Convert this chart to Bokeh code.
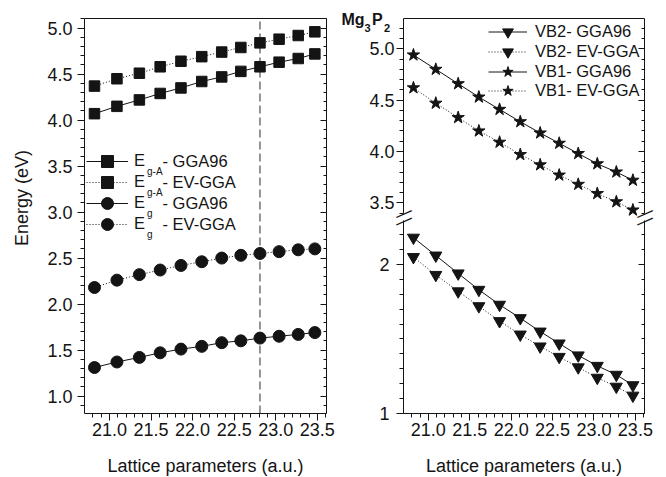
import math
import numpy as np
from bokeh.plotting import figure
from bokeh.layouts import row
from bokeh.models import (Range1d, LinearAxis, FixedTicker, PrintfTickFormatter,
                          CustomJSTickFormatter, Legend, LegendItem, Label)
from bokeh.embed import file_html
from bokeh.resources import INLINE

# ---------------- data ----------------
lattice = [20.82, 21.09, 21.36, 21.61, 21.86, 22.11, 22.35, 22.58, 22.81, 23.04, 23.27, 23.47]
ega_gga96 = [4.07, 4.15, 4.22, 4.29, 4.35, 4.42, 4.47, 4.53, 4.58, 4.63, 4.67, 4.72]
ega_evgga = [4.37, 4.45, 4.51, 4.58, 4.64, 4.69, 4.74, 4.79, 4.84, 4.88, 4.92, 4.96]
eg_gga96 = [1.31, 1.37, 1.42, 1.47, 1.51, 1.54, 1.58, 1.60, 1.63, 1.65, 1.67, 1.69]
eg_evgga = [2.18, 2.26, 2.32, 2.37, 2.42, 2.46, 2.50, 2.53, 2.55, 2.57, 2.59, 2.60]
vb1_gga96 = [4.94, 4.80, 4.66, 4.53, 4.41, 4.29, 4.18, 4.08, 3.98, 3.88, 3.80, 3.72]
vb1_evgga = [4.62, 4.47, 4.33, 4.20, 4.09, 3.97, 3.87, 3.77, 3.68, 3.59, 3.51, 3.43]
vb2_gga96 = [2.18, 2.06, 1.94, 1.83, 1.73, 1.64, 1.55, 1.47, 1.39, 1.32, 1.26, 1.19]
vb2_evgga = [2.05, 1.93, 1.82, 1.72, 1.62, 1.53, 1.45, 1.38, 1.31, 1.24, 1.18, 1.12]
eq_lattice = 22.81

x_limits = (20.7, 23.61)
left_y_limits = (0.81, 5.105)
upper_y_limits = (3.396, 5.295)     # right panel, above the axis break
lower_y_limits = (1.0, 2.295)       # right panel, below the axis break

x_major_ticks = [21.0, 21.5, 22.0, 22.5, 23.0, 23.5]
left_y_ticks = [1.0, 1.5, 2.0, 2.5, 3.0, 3.5, 4.0, 4.5, 5.0]
upper_y_ticks = [3.5, 4.0, 4.5, 5.0]
lower_y_ticks = [1.0, 2.0]

left_legend_main = ["E", "E", "E", "E"]
left_legend_sub = ["g-A", "g-A", "g", "g"]
left_legend_suffix = ["- GGA96", "- EV-GGA", "- GGA96", "- EV-GGA"]
right_legend_labels = ["VB2- GGA96", "VB2- EV-GGA", "VB1- GGA96", "VB1- EV-GGA"]
x_title = "Lattice parameters (a.u.)"
y_title = "Energy (eV)"
title_parts = ["Mg", "3", "P", "2"]

# ---------------- geometry / style ----------------
FONT = "Liberation Sans"
INK = "#141414"
H = 477
LW, RW = 336, 330
L_BOX = dict(left=84, right=326, top=18, bottom=413)
R_BOX = dict(left=403, right=644, up_top=18, up_bottom=213, lo_top=220, lo_bottom=413)
LEG_FONT = "16.5px"


def minor(lo, hi, step=0.1):
    return [round(v, 2) for v in np.arange(lo, hi + 1e-9, step)]


def mapped_range(va, pa, vb, pb, plo, phi):
    k = (vb - va) / (pb - pa)
    a, b = va + (plo - pa) * k, va + (phi - pa) * k
    return Range1d(min(a, b), max(a, b))


def base_fig(width, xr, yr):
    p = figure(width=width, height=H, x_range=xr, y_range=yr, title=None,
               output_backend="svg", toolbar_location=None,
               x_axis_location=None, y_axis_location=None,
               min_border_left=0, min_border_right=0,
               min_border_top=0, min_border_bottom=0)
    p.grid.visible = False
    p.outline_line_color = None
    p.background_fill_color = "white"
    p.border_fill_color = "white"
    return p


def add_axis(p, side, ticks, minors, loc, bounds, fmt=None, tick="out",
             standoff=5, y_range_name="default"):
    ax = LinearAxis(ticker=FixedTicker(ticks=ticks, minor_ticks=minors),
                    fixed_location=loc, bounds=bounds, y_range_name=y_range_name)
    ax.formatter = (PrintfTickFormatter(format=fmt) if fmt
                    else CustomJSTickFormatter(code="return ''"))
    ax.axis_line_color = INK
    ax.axis_line_width = 1
    ax.major_tick_line_color = INK
    ax.minor_tick_line_color = INK
    if tick == "out":
        ax.major_tick_out, ax.major_tick_in = 7, 0
        ax.minor_tick_out, ax.minor_tick_in = 4, 0
    elif tick == "in":
        ax.major_tick_out, ax.major_tick_in = 0, 6
        ax.minor_tick_out, ax.minor_tick_in = 0, 3
    else:
        ax.major_tick_out = ax.major_tick_in = 0
        ax.minor_tick_out = ax.minor_tick_in = 0
    ax.major_label_text_font = FONT
    ax.major_label_text_font_size = "18px"
    ax.major_label_text_color = INK
    ax.major_label_standoff = standoff
    p.add_layout(ax, side)
    return ax


def draw(p, y, marker, size, dash, rname="default"):
    ln = p.line(lattice, y, line_color=INK, line_width=1, line_dash=dash,
                y_range_name=rname)
    sc = p.scatter(lattice, y, marker=marker, size=size, fill_color=INK,
                   line_color=INK, line_width=1, y_range_name=rname)
    return [ln, sc]


def text(p, x, y_page, s, size, bold=False, align="left", angle=0.0):
    # x in canvas pixels, y_page = page pixel of the text's vertical middle
    p.add_layout(Label(x=x, y=H - y_page, x_units="screen", y_units="screen", text=s,
                       text_font=FONT, text_font_size=size,
                       text_font_style="bold" if bold else "normal",
                       text_color=INK, text_align=align,
                       text_baseline="middle", angle=angle))


def entry_legend(p, label, renderers, left, center, gw, gh, standoff, size):
    leg = Legend(items=[LegendItem(label=label, renderers=renderers)],
                 location=(left, H - center - gh / 2), glyph_width=gw,
                 glyph_height=gh, label_height=gh, label_standoff=standoff,
                 padding=0, margin=0, spacing=0, background_fill_alpha=0,
                 border_line_color=None, label_text_font=FONT,
                 label_text_font_size=size, label_text_color=INK)
    p.add_layout(leg)


# ---------------- left panel ----------------
pl = base_fig(LW,
              mapped_range(x_limits[0], L_BOX["left"], x_limits[1], L_BOX["right"], 0, LW),
              mapped_range(left_y_limits[1], L_BOX["top"], left_y_limits[0], L_BOX["bottom"], 0, H))

pl.segment(x0=[eq_lattice], y0=[left_y_limits[0]], x1=[eq_lattice], y1=[left_y_limits[1]],
           line_color="#2a2a2a", line_width=1, line_dash="8 4")
r1 = draw(pl, ega_gga96, "square", 10.5, "solid")
r2 = draw(pl, ega_evgga, "square", 10.5, "1 2")
r3 = draw(pl, eg_gga96, "circle", 12, "solid")
r4 = draw(pl, eg_evgga, "circle", 12, "1 2")

x_minor = minor(20.8, 23.6)
add_axis(pl, "below", x_major_ticks, x_minor, left_y_limits[0], x_limits, "%.1f", standoff=2)
add_axis(pl, "above", x_major_ticks, [], left_y_limits[1], x_limits, None, tick="none")
add_axis(pl, "left", left_y_ticks, minor(0.9, 5.1), x_limits[0], left_y_limits, "%.1f")
add_axis(pl, "right", left_y_ticks, minor(0.9, 5.1), x_limits[1], left_y_limits, None, tick="in")

for i, (main, sub, suf, rr) in enumerate(zip(left_legend_main, left_legend_sub,
                                             left_legend_suffix, [r1, r2, r3, r4])):
    cy = 160.5 + 21 * i
    entry_legend(pl, main, rr, 86, cy, 42, 30, 6, LEG_FONT)
    text(pl, 146.5, cy + 10.5, sub, "10px")
    text(pl, 162, cy, suf, LEG_FONT)

text(pl, 21, 197.5, y_title, "18px", align="center", angle=math.pi / 2)
text(pl, (L_BOX["left"] + L_BOX["right"]) / 2, 465.5, x_title, "18px", align="center")

# ---------------- right panel (broken y axis) ----------------
pr = base_fig(RW,
              mapped_range(x_limits[0], R_BOX["left"] - LW, x_limits[1], R_BOX["right"] - LW, 0, RW),
              mapped_range(lower_y_limits[1], R_BOX["lo_top"], lower_y_limits[0], R_BOX["lo_bottom"], 0, H))
pr.extra_y_ranges = {"upper": mapped_range(upper_y_limits[1], R_BOX["up_top"],
                                           upper_y_limits[0], R_BOX["up_bottom"], 0, H)}

v2g = draw(pr, vb2_gga96, "inverted_triangle", 12, "solid")
v2e = draw(pr, vb2_evgga, "inverted_triangle", 12, "1 2")
v1g = draw(pr, vb1_gga96, "star", 13, "solid", "upper")
v1e = draw(pr, vb1_evgga, "star", 13, "1 2", "upper")

add_axis(pr, "below", x_major_ticks, x_minor, lower_y_limits[0], x_limits, "%.1f", standoff=2)
add_axis(pr, "above", x_major_ticks, [], upper_y_limits[1], x_limits, None, tick="none",
         y_range_name="upper")
add_axis(pr, "left", lower_y_ticks, minor(1.0, 2.2), x_limits[0], lower_y_limits, "%d", standoff=7)
add_axis(pr, "right", lower_y_ticks, minor(1.0, 2.2), x_limits[1], lower_y_limits, None, tick="in")
add_axis(pr, "left", upper_y_ticks, minor(3.4, 5.2), x_limits[0], upper_y_limits, "%.1f",
         standoff=2, y_range_name="upper")
add_axis(pr, "right", upper_y_ticks, minor(3.4, 5.2), x_limits[1], upper_y_limits, None,
         tick="in", y_range_name="upper")

for i, (lab, rr) in enumerate(zip(right_legend_labels, [v2g, v2e, v1g, v1e])):
    entry_legend(pr, lab, rr, 488 - LW, 31.7 + 19.7 * i, 39, 27, 8, LEG_FONT)

# axis-break marks
for bx in (R_BOX["left"] - LW, R_BOX["right"] - LW):
    for by in (212.5, 220.0):
        text(pr, bx, by, "\u2014", "17px", align="center", angle=0.42)

# compound title Mg3P2
text(pr, 341 - LW, 19, title_parts[0], "16px", bold=True)
text(pr, 364 - LW, 27.2, title_parts[1], "11px", bold=True)
text(pr, 371.5 - LW, 19, title_parts[2], "16px", bold=True)
text(pr, 383.5 - LW, 27.2, title_parts[3], "11px", bold=True)

text(pr, (R_BOX["left"] + R_BOX["right"]) / 2 - LW, 465.5, x_title, "18px", align="center")

layout = row(pl, pr)
open("out.html", "w").write(file_html(layout, INLINE))
